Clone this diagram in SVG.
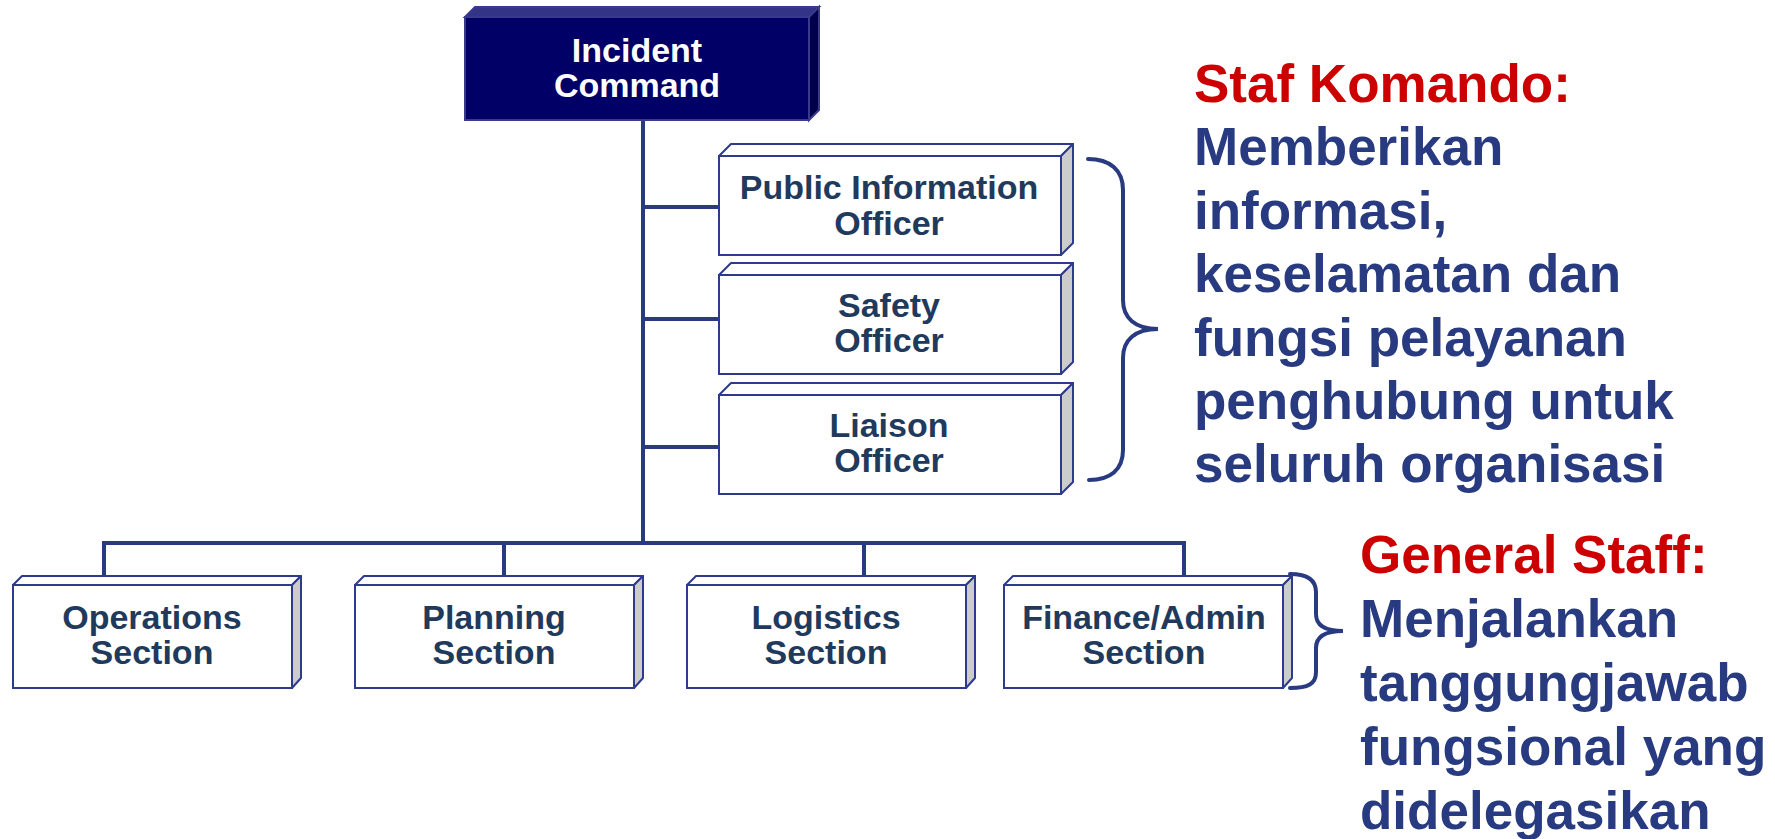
<svg xmlns="http://www.w3.org/2000/svg" width="1775" height="839" viewBox="0 0 1775 839">
<style>
.front{fill:#ffffff;stroke:#2e3a8c;stroke-width:2}
.top{fill:#ffffff;stroke:#2e3a8c;stroke-width:2;stroke-linejoin:round}
.side{fill:#cccccc;stroke:#2e3a8c;stroke-width:2;stroke-linejoin:round}
.icfront{fill:#000066;stroke:#3a3a8c;stroke-width:2}
.ictop{fill:#333388;stroke:#3a3a8c;stroke-width:2}
.icside{fill:#00004a;stroke:#3a3a8c;stroke-width:2}
.lbl{font-family:"Liberation Sans",Arial,sans-serif;font-weight:bold;font-size:34px;fill:#1f3a5c;text-anchor:middle}
.iclbl{font-family:"Liberation Sans",Arial,sans-serif;font-weight:bold;font-size:34px;fill:#ffffff;text-anchor:middle}
.conn{stroke:#283a80;stroke-width:4;fill:none}
.brace{stroke:#283a80;stroke-width:4;fill:none;stroke-linecap:round}
.red{font-family:"Liberation Sans",Arial,sans-serif;font-weight:bold;font-size:53px;fill:#cc0000}
.blue{font-family:"Liberation Sans",Arial,sans-serif;font-weight:bold;font-size:53px;fill:#283a80}
</style>

<g id="connectors">
  <line class="conn" x1="643" y1="120" x2="643" y2="545"/>
  <line class="conn" x1="643" y1="207" x2="719" y2="207"/>
  <line class="conn" x1="643" y1="319" x2="719" y2="319"/>
  <line class="conn" x1="643" y1="447" x2="719" y2="447"/>
  <polyline class="conn" points="104,578 104,543 1184,543 1184,578"/>
  <line class="conn" x1="504" y1="543" x2="504" y2="578"/>
  <line class="conn" x1="864" y1="543" x2="864" y2="578"/>
</g>

<g id="incident-command">
  <polygon class="ictop" points="465,17 475,7 819,7 809,17"/>
  <polygon class="icside" points="809,17 819,7 819,110 809,120"/>
  <rect class="icfront" x="465" y="17" width="344" height="103"/>
  <text class="iclbl" x="637" y="62">Incident</text>
  <text class="iclbl" x="637" y="97">Command</text>
</g>

<g id="public-information-officer">
  <polygon class="top" points="719,156 731,144 1073,144 1061,156"/>
  <polygon class="side" points="1061,156 1073,144 1073,243 1061,255"/>
  <rect class="front" x="719" y="156" width="342" height="99"/>
  <text class="lbl" x="889" y="199">Public Information</text>
  <text class="lbl" x="889" y="235">Officer</text>
</g>

<g id="safety-officer">
  <polygon class="top" points="719,275 731,263 1073,263 1061,275"/>
  <polygon class="side" points="1061,275 1073,263 1073,362 1061,374"/>
  <rect class="front" x="719" y="275" width="342" height="99"/>
  <text class="lbl" x="889" y="317">Safety</text>
  <text class="lbl" x="889" y="352">Officer</text>
</g>

<g id="liaison-officer">
  <polygon class="top" points="719,395 731,383 1073,383 1061,395"/>
  <polygon class="side" points="1061,395 1073,383 1073,482 1061,494"/>
  <rect class="front" x="719" y="395" width="342" height="99"/>
  <text class="lbl" x="889" y="437">Liaison</text>
  <text class="lbl" x="889" y="472">Officer</text>
</g>

<g id="operations-section">
  <polygon class="top" points="13,585 22,576 301,576 292,585"/>
  <polygon class="side" points="292,585 301,576 301,678 292,688"/>
  <rect class="front" x="13" y="585" width="279" height="103"/>
  <text class="lbl" x="152" y="629">Operations</text>
  <text class="lbl" x="152" y="664">Section</text>
</g>

<g id="planning-section">
  <polygon class="top" points="355,585 364,576 643,576 634,585"/>
  <polygon class="side" points="634,585 643,576 643,678 634,688"/>
  <rect class="front" x="355" y="585" width="279" height="103"/>
  <text class="lbl" x="494" y="629">Planning</text>
  <text class="lbl" x="494" y="664">Section</text>
</g>

<g id="logistics-section">
  <polygon class="top" points="687,585 696,576 975,576 966,585"/>
  <polygon class="side" points="966,585 975,576 975,678 966,688"/>
  <rect class="front" x="687" y="585" width="279" height="103"/>
  <text class="lbl" x="826" y="629">Logistics</text>
  <text class="lbl" x="826" y="664">Section</text>
</g>

<g id="finance-admin-section">
  <polygon class="top" points="1004,585 1013,576 1292,576 1283,585"/>
  <polygon class="side" points="1283,585 1292,576 1292,678 1283,688"/>
  <rect class="front" x="1004" y="585" width="279" height="103"/>
  <text class="lbl" x="1144" y="629">Finance/Admin</text>
  <text class="lbl" x="1144" y="664">Section</text>
</g>

<g id="command-staff-brace">
  <path class="brace" d="M1088,159 C1110,159 1123,170 1123,190 L1123,300 C1123,318 1135,329 1158,329 C1135,329 1123,340 1123,358 L1123,450 C1123,470 1110,480 1089,480"/>
</g>

<g id="general-staff-brace">
  <path class="brace" d="M1290,574 C1308,574 1316,580 1316,592 L1316,614 C1316,625 1325,631 1343,631 C1325,631 1316,637 1316,648 L1316,672 C1316,684 1308,688 1290,688"/>
</g>

<g id="command-staff-note">
  <text class="red" x="1194" y="102">Staf Komando:</text>
  <text class="blue" x="1194" y="165">Memberikan</text>
  <text class="blue" x="1194" y="229">informasi,</text>
  <text class="blue" x="1194" y="292">keselamatan dan</text>
  <text class="blue" x="1194" y="356">fungsi pelayanan</text>
  <text class="blue" x="1194" y="419">penghubung untuk</text>
  <text class="blue" x="1194" y="482">seluruh organisasi</text>
</g>

<g id="general-staff-note">
  <text class="red" x="1360" y="573">General Staff:</text>
  <text class="blue" x="1360" y="637">Menjalankan</text>
  <text class="blue" x="1360" y="701">tanggungjawab</text>
  <text class="blue" x="1360" y="765">fungsional yang</text>
  <text class="blue" x="1360" y="829">didelegasikan</text>
</g>
</svg>
